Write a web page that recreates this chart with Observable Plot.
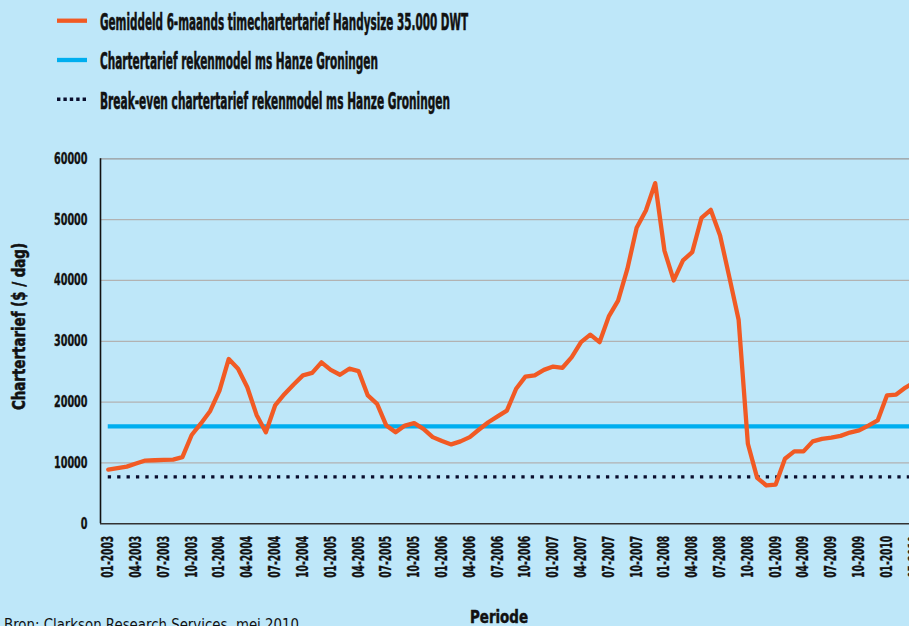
<!DOCTYPE html>
<html><head><meta charset="utf-8">
<script src="https://cdn.jsdelivr.net/npm/d3@7"></script>
<script src="https://cdn.jsdelivr.net/npm/@observablehq/plot@0.6"></script>
<style>
html,body{margin:0;padding:0;overflow:hidden;width:909px;height:626px;background:#bee7f9;}
#root{position:relative;width:909px;height:626px;overflow:hidden;}
#chart{position:absolute;left:0;top:130px;width:940px;}
#chart svg{max-width:none !important;}
#overlay{position:absolute;left:0;top:0;pointer-events:none;}
</style>
</head><body>
<div id="root"><div id="chart"></div><svg id="overlay" width="909" height="640"></svg></div>
<script>
// ---- data ----
const tickLabels = ["01-2003","04-2003","07-2003","10-2003","01-2004","04-2004","07-2004","10-2004",
  "01-2005","04-2005","07-2005","10-2005","01-2006","04-2006","07-2006","10-2006",
  "01-2007","04-2007","07-2007","10-2007","01-2008","04-2008","07-2008","10-2008",
  "01-2009","04-2009","07-2009","10-2009","01-2010","05-2010"];
const handysize = [8900,9150,9400,9900,10400,10450,10500,10550,10950,14600,16500,18550,21900,27100,25500,
  22450,17900,15050,19450,21300,22900,24400,24800,26550,25300,24500,25500,25100,21100,19700,16150,15050,
  16150,16550,15600,14250,13600,13050,13550,14250,15500,16700,17650,18600,22200,24200,24400,25300,25850,
  25650,27400,29850,31100,29850,34100,36700,41900,48650,51500,56000,44900,40000,43300,44650,50300,51600,
  47400,40550,33550,13150,7550,6300,6450,10700,11900,11900,13550,13950,14150,14450,15000,15350,16150,
  17000,21100,21250,22400,23300,24000];
const charterModel = 16000;
const breakEven = 7700;
const yTicks = [0,10000,20000,30000,40000,50000,60000];
const legendItems = [
  "Gemiddeld 6-maands timechartertarief Handysize 35.000 DWT",
  "Chartertarief rekenmodel ms Hanze Groningen",
  "Break-even chartertarief rekenmodel ms Hanze Groningen"
];
const yTitle = "Chartertarief ($ / dag)";
const xTitle = "Periode";
const source = "Bron: Clarkson Research Services, mei 2010";

// ---- style ----
const FONT = '"Liberation Sans Narrow","DejaVu Sans Condensed","Arial Narrow",sans-serif';
const ORANGE = "#f15a24", BLUE = "#00aeef", NAVY = "#0a0f2e", INK = "#111";

const xDomain = [-0.836, 88.5];
const step = 9.27;
const W = 932;
const plotRight = 100 + (xDomain[1] - xDomain[0]) * step;

const chart = Plot.plot({
  width: W, height: 510,
  marginLeft: 100, marginRight: W - plotRight, marginTop: 28.3, marginBottom: 116.7,
  style: {background: "transparent", fontFamily: FONT, fontWeight: "bold", fontSize: "15px", color: INK, overflow: "visible", maxWidth: "none"},
  x: {domain: xDomain, axis: null},
  y: {domain: [0, 60000], axis: null},
  marks: [
    Plot.gridY(yTicks.filter(d => d > 0 && d < 60000), {stroke: "#b2b2b2", strokeOpacity: 1, strokeWidth: 1.2}),
    Plot.ruleY([60000], {stroke: "#999", strokeWidth: 1.2}),
    Plot.ruleY([charterModel], {x1: 0, x2: xDomain[1], stroke: BLUE, strokeWidth: 4.3}),
    Plot.ruleY([breakEven], {x1: 0, x2: xDomain[1], stroke: NAVY, strokeWidth: 3.3, strokeDasharray: "3.3,6.1"}),
    Plot.ruleX([xDomain[0]], {y1: 0, y2: 60000, stroke: INK, strokeWidth: 1.6}),
    Plot.ruleY([0], {stroke: "#333", strokeWidth: 1.6}),
    Plot.axisY({ticks: yTicks, tickSize: 0, tickPadding: 13, tickFormat: d => String(d), fontSize: 15.5, label: null}),
    Plot.axisX({ticks: tickLabels.map((_, k) => 3 * k), tickFormat: d => tickLabels[d / 3], tickRotate: -90,
      tickSize: 0, tickPadding: 12, label: null, fontSize: 15.5}),
    Plot.lineY(handysize, {stroke: ORANGE, strokeWidth: 4.3, strokeLinejoin: "round"})
  ]
});
document.getElementById("chart").appendChild(chart);

// condense and embolden axis tick labels like the reference's heavy narrow font
d3.select(chart).selectAll('[aria-label="y-axis tick label"] text')
  .attr("textLength", function() { return String(this.textContent).length * 6.7; })
  .attr("lengthAdjust", "spacingAndGlyphs")
  .attr("stroke", INK).attr("stroke-width", 0.35);
d3.select(chart).selectAll('[aria-label="x-axis tick label"] text')
  .attr("textLength", 42).attr("lengthAdjust", "spacingAndGlyphs")
  .attr("stroke", INK).attr("stroke-width", 0.35);

// ---- overlay: legend, titles, source ----
const ov = d3.select("#overlay");
const rows = [
  {sy: 20.7, by: 29.8, w: 368, kind: "solid", color: ORANGE, sw: 4.3},
  {sy: 60, by: 69.2, w: 278, kind: "solid", color: BLUE, sw: 4.3},
  {sy: 99.3, by: 108.6, w: 350, kind: "dot", color: NAVY, sw: 3.4}
];
rows.forEach((r, i) => {
  const ln = ov.append("line").attr("x1", 57).attr("x2", 87).attr("y1", r.sy).attr("y2", r.sy)
    .attr("stroke", r.color).attr("stroke-width", r.sw);
  if (r.kind === "dot") ln.attr("stroke-dasharray", "3.4,3").attr("x2", 88);
  ov.append("text").attr("x", 100).attr("y", r.by).text(legendItems[i])
    .attr("font-family", FONT).attr("font-weight", "bold").attr("font-size", 23).attr("fill", INK)
    .attr("stroke", INK).attr("stroke-width", 0.6)
    .attr("textLength", r.w).attr("lengthAdjust", "spacingAndGlyphs");
});
ov.append("text").attr("transform", "translate(25,326.5) rotate(-90)").attr("text-anchor", "middle")
  .text(yTitle).attr("font-family", FONT).attr("font-weight", "bold").attr("font-size", 18).attr("fill", INK)
  .attr("stroke", INK).attr("stroke-width", 0.5)
  .attr("textLength", 167).attr("lengthAdjust", "spacingAndGlyphs");
ov.append("text").attr("x", 499).attr("y", 623).attr("text-anchor", "middle").text(xTitle)
  .attr("font-family", FONT).attr("font-weight", "bold").attr("font-size", 17.5).attr("fill", INK)
  .attr("stroke", INK).attr("stroke-width", 0.5)
  .attr("textLength", 58).attr("lengthAdjust", "spacingAndGlyphs");
ov.append("text").attr("x", 4).attr("y", 630).text(source)
  .attr("font-family", FONT).attr("font-size", 16).attr("fill", INK)
  .attr("textLength", 295).attr("lengthAdjust", "spacingAndGlyphs");
</script>
</body></html>
